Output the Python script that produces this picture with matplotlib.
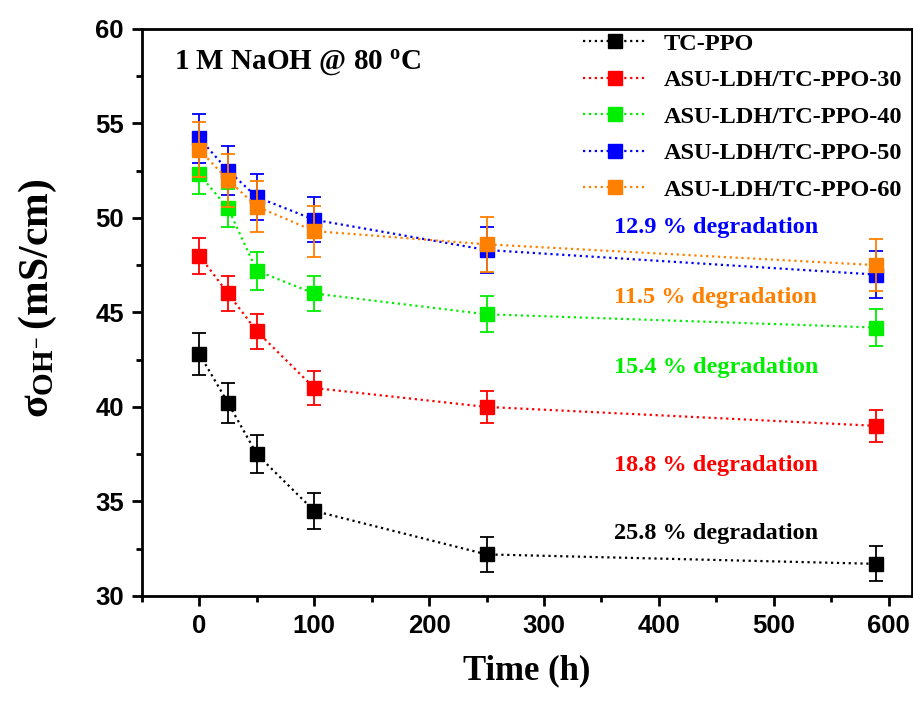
import matplotlib
matplotlib.use('Agg')
import matplotlib.pyplot as plt
from matplotlib.ticker import MultipleLocator

plt.rcParams['font.family'] = 'Liberation Serif'
plt.rcParams['font.weight'] = 'bold'
plt.rcParams['mathtext.fontset'] = 'custom'
plt.rcParams['mathtext.rm'] = 'Liberation Serif:bold'
plt.rcParams['mathtext.it'] = 'Liberation Serif:bold'
plt.rcParams['mathtext.bf'] = 'Liberation Serif:bold'

# time points (h)
hours = [0, 25, 50, 100, 250, 589]

names = ['TC-PPO', 'ASU-LDH/TC-PPO-30', 'ASU-LDH/TC-PPO-40',
         'ASU-LDH/TC-PPO-50', 'ASU-LDH/TC-PPO-60']
tc_ppo = [42.8, 40.2, 37.5, 34.5, 32.2, 31.7]
ldh_30 = [48.0, 46.0, 44.0, 41.0, 40.0, 39.0]
ldh_40 = [52.3, 50.5, 47.2, 46.0, 44.9, 44.2]
ldh_50 = [54.2, 52.5, 51.1, 49.9, 48.3, 47.0]
ldh_60 = [53.6, 52.0, 50.6, 49.3, 48.6, 47.5]

err_tc = [1.1, 1.05, 1.0, 0.95, 0.93, 0.93]
err_30 = [0.95, 0.93, 0.93, 0.9, 0.86, 0.86]
err_40 = [1.05, 1.0, 1.0, 0.95, 0.95, 0.97]
err_50 = [1.3, 1.3, 1.2, 1.2, 1.2, 1.23]
err_60 = [1.45, 1.4, 1.35, 1.35, 1.45, 1.37]

degr_labels = ['12.9 % degradation', '11.5 % degradation', '15.4 % degradation',
               '18.8 % degradation', '25.8 % degradation']
degr_y = [49.5, 45.8, 42.1, 36.9, 33.3]

mycolors = ['black', '#FF0000', '#00EE00', '#0000FF', '#FF8000']
degr_colors = ['#0000FF', '#FF8000', '#00EE00', '#FF0000', 'black']

series = [tc_ppo, ldh_30, ldh_40, ldh_50, ldh_60]
errors = [err_tc, err_30, err_40, err_50, err_60]

fig = plt.figure(figsize=(9.13, 7.02), dpi=100)
ax = fig.add_axes([0.1555, 0.151, 0.843, 0.808])

for i in range(len(series)):
    ax.errorbar(hours, series[i], yerr=errors[i], fmt='none', ecolor=mycolors[i],
                elinewidth=1.3, capsize=5, capthick=1.3)
    ax.plot(hours, series[i], color=mycolors[i], linestyle=':', linewidth=1.6,
            marker='s', markersize=10, label=names[i])

ax.set_xlim(-50, 620)
ax.set_ylim(30, 60)
ax.xaxis.set_major_locator(MultipleLocator(100))
ax.xaxis.set_minor_locator(MultipleLocator(50))
ax.yaxis.set_major_locator(MultipleLocator(5))
ax.yaxis.set_minor_locator(MultipleLocator(2.5))

for sp in ax.spines.values():
    sp.set_linewidth(2)
ax.tick_params(which='major', direction='out', length=7, width=2, labelsize=18.5, pad=6)
ax.tick_params(which='minor', direction='out', length=4, width=2)
for lbl in ax.get_xticklabels() + ax.get_yticklabels():
    lbl.set_family('Liberation Sans')
    lbl.set_weight('bold')

ax.set_xlabel('Time (h)', fontsize=25, fontweight='bold', labelpad=12)
ax.set_ylabel(r'$\sigma_{OH^{-}}\,$(mS/cm)', fontsize=30, fontweight='bold')
ax.yaxis.set_label_coords(-0.108, 0.525)

ax.text(-22, 58.2, r'1 M NaOH @ 80 $^{o}$C', fontsize=21, fontweight='bold',
        va='center', ha='left')

for i in range(len(degr_labels)):
    ax.text(361, degr_y[i], degr_labels[i], color=degr_colors[i], fontsize=17.5,
            fontweight='bold', va='center', ha='left')

ax.legend(loc='upper right', bbox_to_anchor=(1.016, 1.032), frameon=False,
          fontsize=17.5, handlelength=2.6, labelspacing=0.6, handletextpad=0.7)

plt.savefig('out.png', dpi=100)
